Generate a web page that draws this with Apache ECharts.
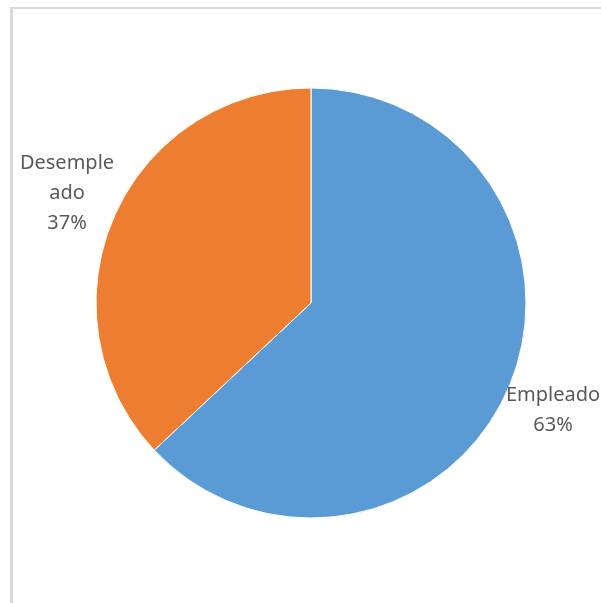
<!DOCTYPE html>
<html>
<head>
<meta charset="utf-8">
<script src="https://cdn.jsdelivr.net/npm/echarts@6/dist/echarts.min.js"></script>
<style>
  html, body { margin: 0; padding: 0; background: #fff; }
  #chart { width: 601px; height: 603px; }
</style>
</head>
<body>
<div id="chart"></div>
<script>
// Employment status share
const categories = ['Empleado', 'Desempleado'];
const values = [63, 37];
const colors = ['#5B9BD5', '#ED7D31'];

// Where each slice label is centred
const labelCentres = [[553, 410], [67, 193]];

const chart = echarts.init(document.getElementById('chart'), null, { renderer: 'canvas' });

chart.setOption({
  animation: false,
  backgroundColor: '#ffffff',
  graphic: [
    { type: 'rect', shape: { x: 10, y: 7, width: 591, height: 2 }, style: { fill: '#d9d9d9' } },
    { type: 'rect', shape: { x: 10, y: 7, width: 3, height: 596 }, style: { fill: '#d9d9d9' } }
  ],
  series: [{
    type: 'pie',
    center: [311, 303],
    radius: [0, 215],
    startAngle: 90,
    clockwise: true,
    avoidLabelOverlap: false,
    itemStyle: { borderColor: '#ffffff', borderWidth: 1 },
    label: {
      show: true,
      position: 'outside',
      alignTo: 'none',
      overflow: 'none',
      color: '#595959',
      fontFamily: 'Noto Sans',
      fontSize: 20,
      lineHeight: 30,
      align: 'center',
      formatter: function (p) {
        const name = p.name.length > 9 ? p.name.slice(0, 8) + '\n' + p.name.slice(8) : p.name;
        return name + '\n' + p.value + '%';
      }
    },
    labelLine: { show: false },
    labelLayout: function (params) {
      const c = labelCentres[params.dataIndex];
      return { x: c[0], y: c[1], align: 'center', verticalAlign: 'middle' };
    },
    data: categories.map((n, i) => ({ name: n, value: values[i], itemStyle: { color: colors[i] } }))
  }]
});
</script>
</body>
</html>
